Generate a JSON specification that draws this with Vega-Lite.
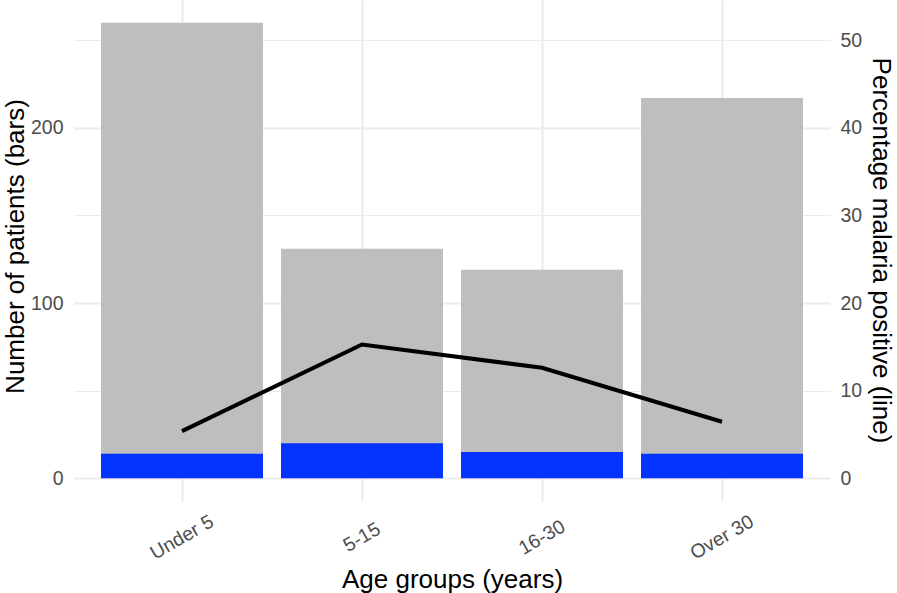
{
  "$schema": "https://vega.github.io/schema/vega-lite/v6.json",
  "width": 756,
  "height": 501,
  "autosize": {"type": "none"},
  "padding": {"left": 74, "top": 0, "right": 67, "bottom": 92},
  "background": "white",
  "config": {
    "view": {"stroke": null},
    "font": "Liberation Sans",
    "axis": {
      "domain": false,
      "ticks": false,
      "gridColor": "#EBEBEB",
      "gridWidth": 2,
      "labelFont": "Liberation Sans",
      "labelFontSize": 19.5,
      "labelColor": "#4D4D4D",
      "titleFont": "Liberation Sans",
      "titleFontSize": 26,
      "titleFontWeight": "normal",
      "titleColor": "#000000"
    }
  },
  "data": {
    "values": [
      {"age": "Under 5", "total": 260, "positive": 14, "pct": 5.38},
      {"age": "5-15", "total": 131, "positive": 20, "pct": 15.27},
      {"age": "16-30", "total": 119, "positive": 15, "pct": 12.61},
      {"age": "Over 30", "total": 217, "positive": 14, "pct": 6.45}
    ]
  },
  "encoding": {
    "x": {
      "field": "age",
      "type": "nominal",
      "sort": ["Under 5", "5-15", "16-30", "Over 30"],
      "scale": {"paddingInner": 0.1, "paddingOuter": 0.15},
      "axis": {
        "title": "Age groups (years)",
        "labelAngle": -30,
        "labelAlign": "center",
        "labelBaseline": "middle",
        "labelPadding": 36,
        "grid": true,
        "bandPosition": 0.5,
        "titleBaseline": "alphabetic",
        "titleY": 86
      }
    }
  },
  "layer": [
    {
      "layer": [
        {
          "mark": {"type": "bar", "color": "#BEBEBE"},
          "encoding": {
            "y": {
              "field": "total",
              "type": "quantitative",
              "scale": {"domain": [-13, 273], "nice": false, "zero": false},
              "axis": {
                "title": "Number of patients (bars)",
                "orient": "left",
                "values": [0, 100, 200],
                "labelPadding": 11,
                "titleAngle": 270,
                "titleBaseline": "alphabetic",
                "titleX": -51,
                "titleY": 246
              }
            }
          }
        },
        {
          "mark": {"type": "bar", "color": "#0433FF"},
          "encoding": {
            "y": {"field": "positive", "type": "quantitative"}
          }
        }
      ]
    },
    {
      "mark": {"type": "line", "color": "#000000", "strokeWidth": 4, "strokeCap": "butt"},
      "encoding": {
        "y": {
          "field": "pct",
          "type": "quantitative",
          "scale": {"domain": [-2.6, 54.6], "nice": false, "zero": false},
          "axis": {
            "title": "Percentage malaria positive (line)",
            "orient": "right",
            "values": [0, 10, 20, 30, 40, 50],
            "gridValues": [10, 30, 50],
            "labelPadding": 10,
            "grid": true,
            "gridWidth": 1,
            "titleAngle": 90,
            "titleBaseline": "alphabetic",
            "titleX": 42,
            "titleY": 250
          }
        }
      }
    }
  ],
  "resolve": {"scale": {"y": "independent"}}
}
